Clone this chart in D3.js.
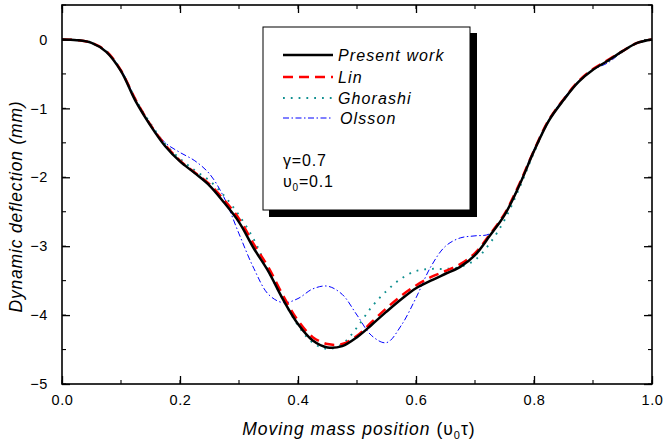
<!DOCTYPE html>
<html>
<head>
<meta charset="utf-8">
<script src="https://cdn.jsdelivr.net/npm/d3@7"></script>
<style>
  body { margin: 0; background: #fff; }
  svg text { font-family: Arial, "Liberation Sans", sans-serif; }
</style>
</head>
<body>
<div id="chart"></div>
<script>
/*Data*/
var xs = [0, 0.025, 0.05, 0.075, 0.1, 0.125, 0.15, 0.175, 0.2, 0.225, 0.25, 0.275, 0.3, 0.325, 0.35, 0.375, 0.4, 0.425, 0.45, 0.475, 0.5,
          0.525, 0.55, 0.575, 0.6, 0.625, 0.65, 0.675, 0.7, 0.725, 0.75, 0.775, 0.8, 0.825, 0.85, 0.875, 0.9, 0.925, 0.95, 0.975, 1];

var present = [0, -0.01, -0.05, -0.18, -0.46, -0.90, -1.25, -1.55, -1.77, -1.94, -2.12, -2.37, -2.65, -3.03, -3.37, -3.78, -4.13, -4.37, -4.47, -4.45, -4.32,
               -4.14, -3.95, -3.77, -3.61, -3.50, -3.40, -3.30, -3.13, -2.85, -2.55, -2.12, -1.62, -1.18, -0.88, -0.62, -0.44, -0.31, -0.17, -0.05, 0];
var lin = [0, -0.01, -0.05, -0.17, -0.45, -0.88, -1.24, -1.53, -1.76, -1.93, -2.10, -2.33, -2.60, -2.97, -3.31, -3.72, -4.08, -4.32, -4.42, -4.42, -4.30,
           -4.10, -3.90, -3.72, -3.57, -3.45, -3.36, -3.26, -3.10, -2.83, -2.53, -2.10, -1.61, -1.17, -0.87, -0.61, -0.43, -0.30, -0.17, -0.05, 0];
var ghorashi = [0, -0.01, -0.05, -0.17, -0.45, -0.87, -1.22, -1.52, -1.73, -1.90, -2.05, -2.27, -2.55, -2.90, -3.36, -3.78, -4.15, -4.40, -4.49, -4.42, -4.18,
                -3.88, -3.65, -3.47, -3.36, -3.33, -3.33, -3.30, -3.20, -2.96, -2.62, -2.16, -1.64, -1.18, -0.88, -0.62, -0.44, -0.32, -0.18, -0.05, 0];
var olsson = [0, -0.01, -0.05, -0.17, -0.44, -0.88, -1.24, -1.50, -1.64, -1.76, -1.95, -2.30, -2.82, -3.32, -3.70, -3.82, -3.76, -3.62, -3.58, -3.70, -4.00,
              -4.30, -4.40, -4.15, -3.75, -3.30, -3.00, -2.88, -2.85, -2.82, -2.55, -2.10, -1.60, -1.17, -0.86, -0.61, -0.44, -0.34, -0.18, -0.05, 0];

var seriesNames = ["Present work", "Lin", "Ghorashi", "Olsson"];
var xTicks = [0, 0.2, 0.4, 0.6, 0.8, 1.0];
var yTicks = [0, -1, -2, -3, -4, -5];

/*SVG Size*/
var width = 663;
var height = 443;
var pLeft = 62, pRight = 652, pTop = 5, pBottom = 384;

var svg = d3.select("#chart").append("svg")
            .attr("width", width)
            .attr("height", height);

var x = d3.scaleLinear().domain([0, 1]).range([pLeft, pRight]);
var y = d3.scaleLinear().domain([-5, 0.5]).range([pBottom, pTop]);

/*Styles per series*/
var styles = [
  {color: "#000000", w: 2.5, dash: null},
  {color: "#ff0000", w: 2.5, dash: "10,6"},
  {color: "#119090", w: 1.9, dash: "1.8,6"},
  {color: "#0000ff", w: 1, dash: "6,2.5,1.5,2.5"}
];
var allSeries = [present, lin, ghorashi, olsson];

var line = d3.line()
             .x(function(d){ return x(d[0]); })
             .y(function(d){ return y(d[1]); })
             .curve(d3.curveCatmullRom.alpha(0.5));

var plot = svg.append("g");
// draw back to front: Olsson, Ghorashi, Lin, Present
[3, 2, 1, 0].forEach(function(i){
  var pts = xs.map(function(v, k){ return [v, allSeries[i][k]]; });
  plot.append("path")
      .attr("d", line(pts))
      .attr("fill", "none")
      .attr("stroke", styles[i].color)
      .attr("stroke-width", styles[i].w)
      .attr("stroke-dasharray", styles[i].dash);
});

/*Axes*/
var fmtX = d3.format(".1f");
var minorX = d3.range(0, 1.0001, 0.1);
var minorY = d3.range(-5, 0.5001, 0.5);

var axB = d3.axisBottom(x).tickValues(xTicks).tickFormat(fmtX).tickSize(-8).tickPadding(11);
var axT = d3.axisTop(x).tickValues(xTicks).tickFormat("").tickSize(-8);
var axL = d3.axisLeft(y).tickValues(yTicks).tickFormat(d3.format("d")).tickSize(-8).tickPadding(14);
var axR = d3.axisRight(y).tickValues(yTicks).tickFormat("").tickSize(-8);

function styleAxis(g){
  g.select(".domain").remove();
  g.selectAll("line").attr("stroke", "#000").attr("stroke-width", 1.3);
  g.selectAll("text").attr("font-size", 14.5).attr("fill", "#000").attr("letter-spacing", 0.6)
   .attr("font-family", "Arial, 'Liberation Sans', sans-serif");
}

svg.append("g").attr("transform", "translate(0," + pBottom + ")").call(axB).call(styleAxis);
svg.append("g").attr("transform", "translate(0," + pTop + ")").call(axT).call(styleAxis);
svg.append("g").attr("transform", "translate(" + pLeft + ",0)").call(axL).call(styleAxis);
svg.append("g").attr("transform", "translate(" + pRight + ",0)").call(axR).call(styleAxis);

// minor ticks
var minor = svg.append("g").attr("stroke", "#000").attr("stroke-width", 1.1);
minorX.forEach(function(v){
  minor.append("line").attr("x1", x(v)).attr("x2", x(v)).attr("y1", pBottom).attr("y2", pBottom - 4);
  minor.append("line").attr("x1", x(v)).attr("x2", x(v)).attr("y1", pTop).attr("y2", pTop + 4);
});
minorY.forEach(function(v){
  minor.append("line").attr("x1", pLeft).attr("x2", pLeft + 4).attr("y1", y(v)).attr("y2", y(v));
  minor.append("line").attr("x1", pRight).attr("x2", pRight - 4).attr("y1", y(v)).attr("y2", y(v));
});

/*Frame*/
svg.append("rect")
   .attr("x", pLeft).attr("y", pTop)
   .attr("width", pRight - pLeft).attr("height", pBottom - pTop)
   .attr("fill", "none").attr("stroke", "#000").attr("stroke-width", 1.6);

/*Axis titles*/
var xt = svg.append("text")
   .attr("x", (pLeft + pRight) / 2 + 2).attr("y", 435)
   .attr("text-anchor", "middle")
   .attr("font-size", 17.5)
   .attr("letter-spacing", 1);
xt.append("tspan").attr("font-style", "italic").text("Moving mass position ");
xt.append("tspan").text("(\u03C5");
xt.append("tspan").attr("font-size", 11).attr("dy", 4).text("0");
xt.append("tspan").attr("dy", -4).text("\u03C4)");

svg.append("text")
   .attr("transform", "translate(22," + ((pTop + pBottom) / 2 + 12) + ") rotate(-90)")
   .attr("text-anchor", "middle")
   .attr("font-size", 17.5)
   .attr("font-style", "italic")
   .attr("letter-spacing", 0.8)
   .text("Dynamic deflection (mm)");

/*Legend*/
var lg = svg.append("g");
lg.append("rect").attr("x", 269).attr("y", 33).attr("width", 208).attr("height", 184).attr("fill", "#000");
lg.append("rect").attr("x", 263).attr("y", 27).attr("width", 207).attr("height", 183)
  .attr("fill", "#fff").attr("stroke", "#000").attr("stroke-width", 1);

var rowY = [55, 77, 98, 118];
seriesNames.forEach(function(name, i){
  lg.append("line")
    .attr("x1", 283).attr("x2", 333).attr("y1", rowY[i]).attr("y2", rowY[i])
    .attr("stroke", styles[i].color)
    .attr("stroke-width", styles[i].w)
    .attr("stroke-dasharray", styles[i].dash);
  lg.append("text")
    .attr("x", i === 3 ? 340 : 338).attr("y", rowY[i] + 5.5)
    .attr("font-size", 16).attr("font-style", "italic").attr("letter-spacing", 1.1)
    .text(name);
});

lg.append("text").attr("x", 283).attr("y", 166).attr("font-size", 16).attr("letter-spacing", 0.8).text("\u03B3=0.7");
var u0 = lg.append("text").attr("x", 283).attr("y", 187).attr("font-size", 16).attr("letter-spacing", 0.8);
u0.append("tspan").text("\u03C5");
u0.append("tspan").attr("font-size", 10).attr("dy", 4).text("0");
u0.append("tspan").attr("dy", -4).text("=0.1");
</script>
</body>
</html>
